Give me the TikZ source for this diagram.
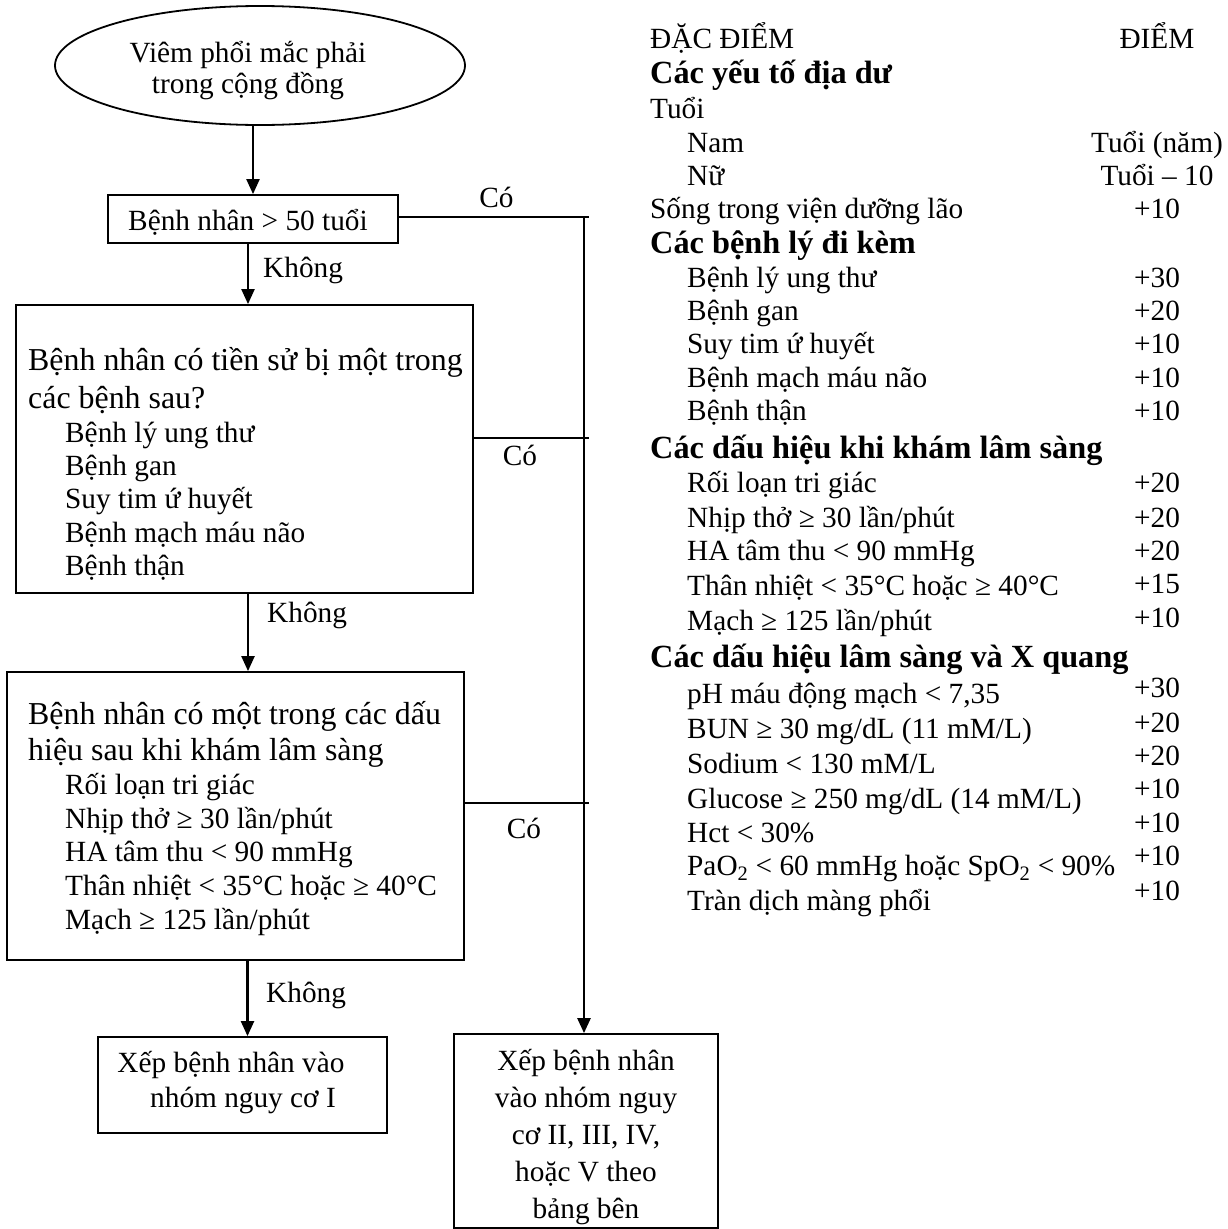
\documentclass[tikz,border=0pt]{standalone}
\usepackage{fontspec}
\setmainfont{Liberation Serif}
\usetikzlibrary{arrows.meta,shapes.geometric}
\begin{document}
\begin{tikzpicture}[x=1pt,y=-1pt,
  every node/.style={inner sep=0pt, font=\fontsize{29.3}{34}\selectfont},
  boxnode/.style={draw, line width=1.8pt, rectangle},
  txt/.style={anchor=base west},
  ctxt/.style={anchor=base},
  big/.style={anchor=base west, font=\fontsize{31.9}{38}\selectfont},
  hd/.style={anchor=base west, font=\fontsize{32.3}{38}\selectfont\bfseries},
  conn/.style={line width=1.8pt},
  arr/.style={line width=2.2pt, -{Triangle[length=15pt,width=13pt]}},
  trunk/.style={line width=2.6pt, -{Triangle[length=15pt,width=13pt]}},
]
\useasboundingbox (0,0) rectangle (1227,1229);

% ---------- flowchart shapes ----------
\node[ellipse, draw, line width=1.8pt, minimum width=410pt, minimum height=119pt] (ell) at (260,65.5) {};
\node[ctxt] (e1) at (248,62) {Viêm phổi mắc phải};
\node[ctxt] (e2) at (248,93) {trong cộng đồng};

\node[boxnode, minimum width=290pt, minimum height=48pt] (b1) at (253,219) {};
\node[ctxt] (b1t) at (248,230) {Bệnh nhân > 50 tuổi};

\node[boxnode, minimum width=457pt, minimum height=288pt] (b2) at (244.5,449) {};
\node[big] (b2a) at (28,370) {Bệnh nhân có tiền sử bị một trong};
\node[big] (b2b) at (28,408) {các bệnh sau?};
\node[txt] (b2c) at (65,442) {Bệnh lý ung thư};
\node[txt] (b2d) at (65,475) {Bệnh gan};
\node[txt] (b2e) at (65,508) {Suy tim ứ huyết};
\node[txt] (b2f) at (65,542) {Bệnh mạch máu não};
\node[txt] (b2g) at (65,575) {Bệnh thận};

\node[boxnode, minimum width=457pt, minimum height=288pt] (b3) at (235.5,816) {};
\node[big] (b3a) at (28,724) {Bệnh nhân có một trong các dấu};
\node[big] (b3b) at (28,760) {hiệu sau khi khám lâm sàng};
\node[txt] (b3c) at (65,794) {Rối loạn tri giác};
\node[txt] (b3d) at (65,828) {Nhịp thở ≥ 30 lần/phút};
\node[txt] (b3e) at (65,861) {HA tâm thu < 90 mmHg};
\node[txt] (b3f) at (65,895) {Thân nhiệt < 35°C hoặc ≥ 40°C};
\node[txt] (b3g) at (65,929) {Mạch ≥ 125 lần/phút};

\node[boxnode, minimum width=289pt, minimum height=96pt] (b4) at (242.5,1085) {};
\node[ctxt] (b4a) at (231,1072) {Xếp bệnh nhân vào};
\node[ctxt] (b4b) at (243,1107) {nhóm nguy cơ I};

\node[boxnode, minimum width=264pt, minimum height=194pt] (b5) at (586,1131) {};
\node[ctxt] (b5a) at (586,1070) {Xếp bệnh nhân};
\node[ctxt] (b5b) at (586,1107) {vào nhóm nguy};
\node[ctxt] (b5c) at (586,1144) {cơ II, III, IV,};
\node[ctxt] (b5d) at (586,1181) {hoặc V theo};
\node[ctxt] (b5e) at (586,1218) {bảng bên};

% ---------- connectors ----------
\draw[arr] (ell.south -| b1.north) -- (b1.north);
\draw[arr] ([xshift=-5pt]b1.south) -- ([xshift=-5pt]b1.south |- b2.north);
\draw[arr] ([xshift=3.5pt]b2.south) -- ([xshift=3.5pt]b2.south |- b3.north);
\draw[arr] ([xshift=12pt]b3.south) -- ([xshift=12pt]b3.south |- b4.north);

\coordinate (j1) at (589,217);
\coordinate (j2) at (589,438);
\coordinate (j3) at (589,803);
\coordinate (tt) at (584,217);
\draw[conn] (b1.east |- j1) -- (j1);
\draw[conn] (b2.east |- j2) -- (j2);
\draw[conn] (b3.east |- j3) -- (j3);
\draw[trunk] (tt) -- (tt |- b5.north);

% ---------- connector labels ----------
\node[ctxt] (c1) at (496.5,207) {Có};
\node[ctxt] (c2) at (520,465) {Có};
\node[ctxt] (c3) at (524,838) {Có};
\node[txt] (k1) at (263,277) {Không};
\node[txt] (k2) at (267,622) {Không};
\node[txt] (k3) at (266,1002) {Không};

% ---------- score table ----------
\node[txt] (h1) at (650,48) {ĐẶC ĐIỂM};
\node[ctxt] (h2) at (1157,48) {ĐIỂM};
\node[hd] (g1) at (650,83) {Các yếu tố địa dư};
\node[txt] (r1) at (650,118) {Tuổi};
\node[txt] (r2) at (687,152) {Nam};
\node[ctxt] (s2) at (1157,152) {Tuổi (năm)};
\node[txt] (r3) at (687,185) {Nữ};
\node[ctxt] (s3) at (1157,185) {Tuổi – 10};
\node[txt] (r4) at (650,218) {Sống trong viện dưỡng lão};
\node[ctxt] (s4) at (1157,218) {+10};
\node[hd] (g2) at (650,253) {Các bệnh lý đi kèm};
\node[txt] (r5) at (687,287) {Bệnh lý ung thư};
\node[ctxt] (s5) at (1157,287) {+30};
\node[txt] (r6) at (687,320) {Bệnh gan};
\node[ctxt] (s6) at (1157,320) {+20};
\node[txt] (r7) at (687,353) {Suy tim ứ huyết};
\node[ctxt] (s7) at (1157,353) {+10};
\node[txt] (r8) at (687,387) {Bệnh mạch máu não};
\node[ctxt] (s8) at (1157,387) {+10};
\node[txt] (r9) at (687,420) {Bệnh thận};
\node[ctxt] (s9) at (1157,420) {+10};
\node[hd] (g3) at (650,458) {Các dấu hiệu khi khám lâm sàng};
\node[txt] (r10) at (687,492) {Rối loạn tri giác};
\node[ctxt] (s10) at (1157,492) {+20};
\node[txt] (r11) at (687,527) {Nhịp thở ≥ 30 lần/phút};
\node[ctxt] (s11) at (1157,527) {+20};
\node[txt] (r12) at (687,560) {HA tâm thu < 90 mmHg};
\node[ctxt] (s12) at (1157,560) {+20};
\node[txt] (r13) at (687,595) {Thân nhiệt < 35°C hoặc ≥ 40°C};
\node[ctxt] (s13) at (1157,593) {+15};
\node[txt] (r14) at (687,630) {Mạch ≥ 125 lần/phút};
\node[ctxt] (s14) at (1157,627) {+10};
\node[hd] (g4) at (650,667) {Các dấu hiệu lâm sàng và X quang};
\node[txt] (r15) at (687,703) {pH máu động mạch < 7,35};
\node[ctxt] (s15) at (1157,697) {+30};
\node[txt] (r16) at (687,738) {BUN ≥ 30 mg/dL (11 mM/L)};
\node[ctxt] (s16) at (1157,732) {+20};
\node[txt] (r17) at (687,773) {Sodium < 130 mM/L};
\node[ctxt] (s17) at (1157,765) {+20};
\node[txt] (r18) at (687,808) {Glucose ≥ 250 mg/dL (14 mM/L)};
\node[ctxt] (s18) at (1157,798) {+10};
\node[txt] (r19) at (687,842) {Hct < 30\%};
\node[ctxt] (s19) at (1157,832) {+10};
\node[txt] (r20) at (687,875) {PaO\textsubscript{2} < 60 mmHg hoặc SpO\textsubscript{2} < 90\%};
\node[ctxt] (s20) at (1157,865) {+10};
\node[txt] (r21) at (687,910) {Tràn dịch màng phổi};
\node[ctxt] (s21) at (1157,900) {+10};
\end{tikzpicture}
\end{document}
